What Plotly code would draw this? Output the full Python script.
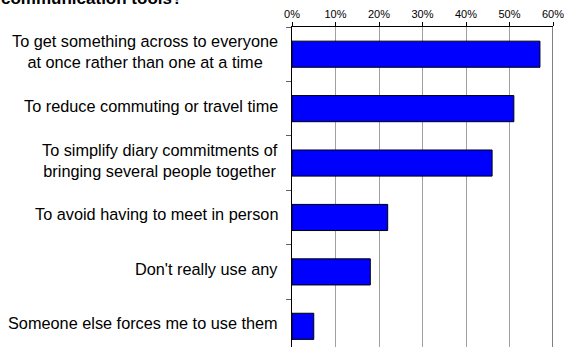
import plotly.graph_objects as go

# Survey responses: reasons for using group communication tools
categories = [
    "To get something across to everyone<br>at once rather than one at a time",
    "To reduce commuting or travel time",
    "To simplify diary commitments of<br>bringing several people together",
    "To avoid having to meet in person",
    "Don't really use any",
    "Someone else forces me to use them",
]
shares = [57, 51, 46, 22, 18, 5]  # percent of respondents
x_ticks = [0, 10, 20, 30, 40, 50, 60]
x_tick_labels = ["0%", "10%", "20%", "30%", "40%", "50%", "60%"]

FONT = "Liberation Sans, Arial, sans-serif"

fig = go.Figure(
    go.Bar(
        x=shares,
        y=categories,
        orientation="h",
        width=0.48,
        marker=dict(color="#0000FF", line=dict(color="#000000", width=1)),
        hoverinfo="x+y",
    )
)

# Category labels: centred multi-line text to the left of the axis
annotations = [
    dict(
        x=0, xref="paper", y=cat, yref="y",
        text=cat, showarrow=False,
        xanchor="right", yanchor="middle", align="center",
        xshift=-12, yshift=3,
        font=dict(family=FONT, size=16.3, color="#000000"),
    )
    for cat in categories
]
# Heading (only its lower part falls inside the canvas)
annotations.append(
    dict(
        x=0, xref="paper", y=1, yref="paper",
        text="<b>communication tools?</b>", showarrow=False,
        xanchor="left", yanchor="middle", xshift=-293, yshift=29,
        font=dict(family=FONT, size=17, color="#000000"),
    )
)

fig.update_layout(
    width=564,
    height=347,
    margin=dict(l=292, r=11, t=27, b=0),
    paper_bgcolor="white",
    plot_bgcolor="white",
    showlegend=False,
    bargap=0.52,
    annotations=annotations,
    xaxis=dict(
        side="top",
        range=[0, 60],
        tickvals=x_ticks,
        ticktext=x_tick_labels,
        ticks="outside",
        ticklen=4,
        tickcolor="#000000",
        tickfont=dict(family=FONT, size=11, color="#000000"),
        ticklabeloverflow="allow",
        showgrid=True,
        gridcolor="#A0A0A0",
        gridwidth=1,
        showline=True,
        linecolor="#000000",
        linewidth=1,
        zeroline=False,
        fixedrange=True,
    ),
    yaxis=dict(
        type="category",
        categoryorder="array",
        categoryarray=categories,
        range=[5.38, -0.5],
        showticklabels=False,
        ticks="outside",
        tickson="boundaries",
        ticklen=5,
        tickcolor="#606060",
        showgrid=False,
        showline=True,
        linecolor="#000000",
        linewidth=1,
        zeroline=False,
        fixedrange=True,
    ),
)

# Right-hand plot border at the 60% mark
fig.add_shape(
    type="line", xref="x", yref="paper",
    x0=60, x1=60, y0=0, y1=1,
    line=dict(color="#808080", width=2),
)

fig.write_html("out.html")
